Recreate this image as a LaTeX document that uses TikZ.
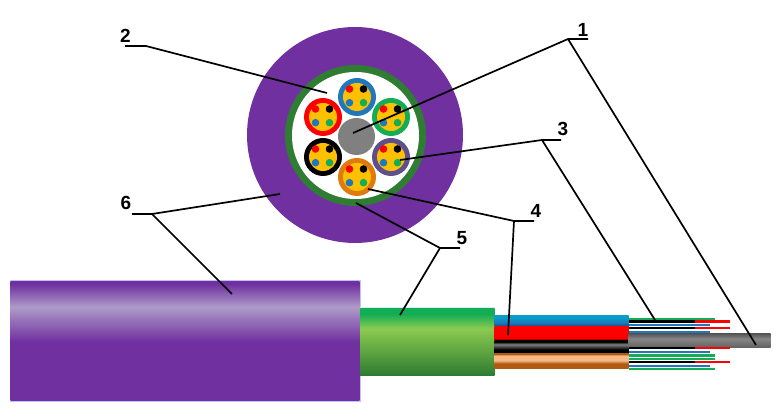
\documentclass[tikz,border=0pt]{standalone}
\usepackage{fontspec}
\setmainfont{Liberation Sans}
\definecolor{jacket}{HTML}{7030A0}
\definecolor{jacketlight}{HTML}{AE9BC9}
\definecolor{armour}{HTML}{2F7D32}
\definecolor{armourlight}{HTML}{8CCB50}
\definecolor{gelfill}{HTML}{FFC000}
\definecolor{fblue}{HTML}{1F78BE}
\definecolor{fgreen}{HTML}{12AD55}
\definecolor{forange}{HTML}{DF7A0C}
\definecolor{fpurple}{HTML}{5F4F8C}
\definecolor{tubecyan}{HTML}{0A9CCB}
\definecolor{tubedark}{HTML}{0B4C80}
\definecolor{peach}{HTML}{F8B986}
\definecolor{rust}{HTML}{AF5A10}
\pgfdeclareverticalshading{jacketshade}{100bp}{color(0bp)=(jacket);color(49.8bp)=(jacket);color(64.3bp)=(jacketlight);color(74bp)=(jacket);color(100bp)=(jacket)}
\pgfdeclareverticalshading{armourshade}{100bp}{color(0bp)=(armour);color(26bp)=(armour);color(60bp)=(armourlight);color(71bp)=(fgreen);color(100bp)=(fgreen)}
\pgfdeclareverticalshading{blueshade}{100bp}{color(0bp)=(tubedark);color(25bp)=(tubedark);color(45bp)=(fblue);color(68bp)=(tubecyan);color(100bp)=(tubecyan)}
\pgfdeclareverticalshading{redshade}{100bp}{color(0bp)=(black);color(27bp)=(black);color(34bp)=(red);color(100bp)=(red)}
\pgfdeclareverticalshading{blackshade}{100bp}{color(0bp)=(black);color(42bp)=(black);color(62bp)=(gray);color(72bp)=(black);color(100bp)=(black)}
\pgfdeclareverticalshading{orangeshade}{100bp}{color(0bp)=(rust);color(43bp)=(rust);color(54bp)=(peach);color(70bp)=(peach);color(74bp)=(rust);color(100bp)=(rust)}
\pgfdeclareverticalshading{coreshade}{100bp}{color(0bp)=(gray!75!black);color(25bp)=(gray!75!black);color(58bp)=(gray!95!white);color(75bp)=(gray!70!black);color(100bp)=(gray!70!black)}
\tikzset{
  numlabel/.style={font=\fontsize{19}{19}\selectfont\bfseries,inner sep=0pt},
  leader/.style={black,line width=1.7pt},
  fibre/.style={line width=2.3pt}
}
\begin{document}
\begin{tikzpicture}[x=1pt,y=-1pt]
  \useasboundingbox (0,0) rectangle (780,419);
  % cross section
  \fill[jacket] (355,135) circle (108);
  \fill[armour] (355.5,135.5) circle (70.5);
  \fill[white] (355.5,135.5) circle (63.5);
  \fill[gray] (356.5,136.5) circle (18.5);
  \foreach \x/\y/\c in {357/97/fblue,323/117/red,391/117/fgreen,323/157/black,391/157/fpurple,357/177/forange}
  {
    \fill[\c] (\x,\y) circle (19);
    \fill[gelfill] (\x,\y) circle (14);
    \fill[red] (\x,\y) + (-7.5,-8) circle (3.8);
    \fill[black] (\x,\y) + (6.5,-8) circle (3.8);
    \fill[fblue] (\x,\y) + (-7.5,5.7) circle (3.8);
    \fill[fgreen] (\x,\y) + (6.5,5.7) circle (3.8);
  }
  % side view
  \draw[blue!25!white,line width=1pt] (10,281) rectangle (360,401.5);
  \shade[shading=jacketshade] (10.5,281.5) rectangle (359.5,401);
  \draw[cyan!20!white,line width=1pt] (360,308) -- (494.5,308);
  \shade[shading=armourshade] (360,308.5) rectangle (494.5,376);
  \foreach \yt/\yb/\s in {316/327/blueshade,327/341/redshade,341/354/blackshade,354/369/orangeshade}
  {
    \shade[shading=\s] (494.5,\yt) rectangle (628.5,\yb);
  }
  % fibres above and below the core
  \foreach \y/\e/\c in {319/715/fgreen,325/710/fblue,332/710/fblue,352/710/fblue,355.5/715/fgreen,359/715/fgreen,366/710/fblue,369/715/fgreen}
  {
    \draw[fibre,\c] (629,\y) -- (\e,\y);
  }
  \foreach \y in {321.5,328,362}
  {
    \draw[fibre,red] (695,\y) -- (730,\y);
    \draw[fibre,black] (629,\y) -- (695,\y);
  }
  \shade[shading=coreshade] (628.5,334) rectangle (770.5,348);
  \draw[fibre,red] (695,348) -- (730,348);
  \draw[fibre,black] (629,348) -- (695,348);
  % labels
  \node[numlabel] (one) at (583,30) {1};
  \node[numlabel] (two) at (125.5,36) {2};
  \node[numlabel] (three) at (563,129) {3};
  \node[numlabel] (four) at (536,211) {4};
  \node[numlabel] (five) at (462,238) {5};
  \node[numlabel] (six) at (126,203) {6};
  % leader ends
  \foreach \n/\x/\y in {oneL/568/39,oneR/588/39,oneA/353/133,oneB/756/345,
    twoL/125/46,twoR/146/46,twoA/327/93,
    threeL/542/140,threeR/561/140,threeA/400/160,threeB/655/320,
    fourL/514/221,fourR/534/221,fourA/368/189,fourB/508/335,
    fiveL/440/248,fiveR/460/248,fiveA/356/203,fiveB/400/315,
    sixL/152/214,sixR/132/214,sixA/280/194,sixB/232/294}
  {
    \coordinate (\n) at (\x,\y);
  }
  \draw[leader] (oneA) -- (oneL) -- (oneR);
  \draw[leader] (oneB) -- (oneL);
  \draw[leader] (twoA) -- (twoR) -- (twoL);
  \draw[leader] (threeA) -- (threeL) -- (threeR);
  \draw[leader] (threeB) -- (threeL);
  \draw[leader] (fourA) -- (fourL) -- (fourR);
  \draw[leader] (fourB) -- (fourL);
  \draw[leader] (fiveA) -- (fiveL) -- (fiveR);
  \draw[leader] (fiveB) -- (fiveL);
  \draw[leader] (sixA) -- (sixL) -- (sixR);
  \draw[leader] (sixB) -- (sixL);
\end{tikzpicture}
\end{document}
